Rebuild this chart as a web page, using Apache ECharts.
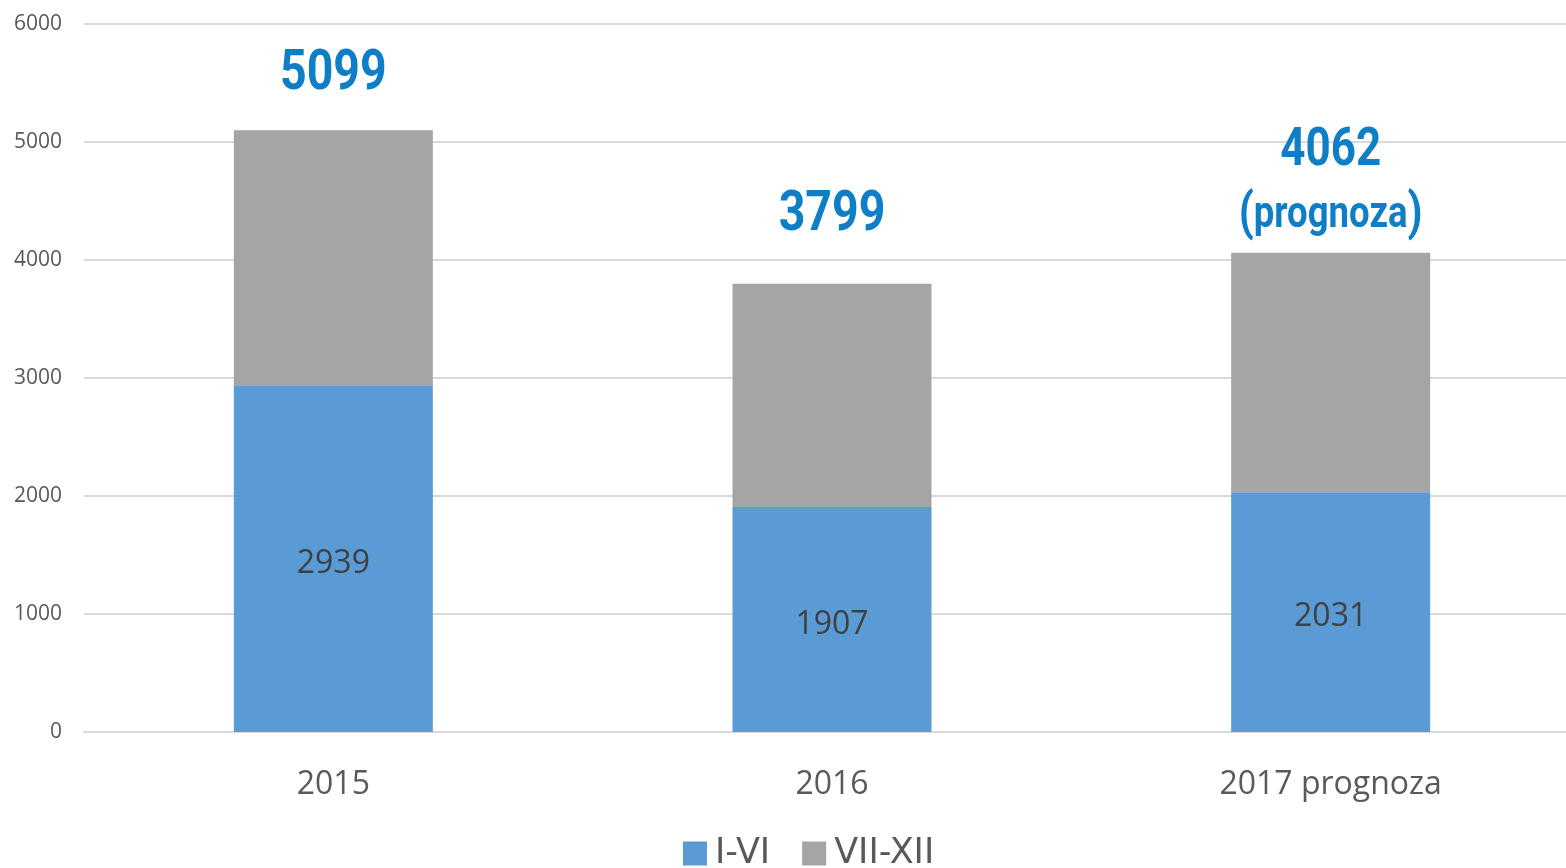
<!DOCTYPE html>
<html>
<head>
<meta charset="utf-8">
<script src="https://cdn.jsdelivr.net/npm/echarts@6/dist/echarts.min.js"></script>
<style>
  html, body { margin: 0; padding: 0; background: #fff; overflow: hidden; }
  #chart { width: 1580px; height: 868px; }
</style>
</head>
<body>
<div id="chart"></div>
<script>
// dane
const years = ['2015', '2016', '2017 prognoza'];
const firstHalf = [2939, 1907, 2031];   // I-VI
const secondHalf = [2160, 1892, 2031];  // VII-XII
const totals = [5099, 3799, 4062];
const totalNotes = ['', '', 'prognoza'];
const yTicks = [0, 1000, 2000, 3000, 4000, 5000, 6000];

const chart = echarts.init(document.getElementById('chart'));

const textFont = 'Open Sans';
const blueText = '#0e7fc7';

// polozenie etykiet sum nad slupkami (px nad gora slupka)
const numOffset = [55, 68, 101];
const numSize = [56, 56, 53];
const noteOffset = 37;

function renderTotal(params, api) {
  const i = api.value(0);
  const top = api.coord([i, api.value(1)]);
  const children = [{
    type: 'text',
    x: top[0],
    y: top[1] - numOffset[i],
    scaleX: 0.83,
    style: {
      text: String(totals[i]),
      fontFamily: 'Roboto',
      fontWeight: 'bold',
      fontSize: numSize[i],
      fill: blueText,
      align: 'center',
      verticalAlign: 'middle'
    }
  }];
  if (totalNotes[i]) {
    children.push({
      type: 'text',
      x: top[0],
      y: top[1] - noteOffset,
      scaleX: 0.83,
      style: {
        text: '{p|(}{b|' + totalNotes[i] + '}{p|)}',
        align: 'center',
        verticalAlign: 'middle',
        rich: {
          b: { fontFamily: 'Roboto', fontWeight: 'bold', fontSize: 44, fill: blueText },
          p: { fontFamily: 'Roboto', fontWeight: 'bold', fontSize: 52, fill: blueText }
        }
      }
    });
  }
  return { type: 'group', children: children };
}

const option = {
  animation: false,
  grid: { left: 84, right: 0, top: 24, bottom: 136, containLabel: false },
  legend: {
    bottom: -8,
    left: 678,
    icon: 'rect',
    itemWidth: 24,
    itemHeight: 24,
    itemGap: 32,
    textStyle: { fontFamily: 'DejaVu Sans', fontSize: 35, color: '#595959', padding: [0, 0, 0, 3] },
    data: ['I-VI', 'VII-XII']
  },
  xAxis: {
    type: 'category',
    data: years,
    axisTick: { show: false },
    axisLine: { lineStyle: { color: '#d9d9d9', width: 2 } },
    axisLabel: { fontFamily: textFont, fontSize: 32, color: '#595959', margin: 37 }
  },
  yAxis: {
    type: 'value',
    min: yTicks[0],
    max: yTicks[yTicks.length - 1],
    interval: 1000,
    axisLine: { show: false },
    axisTick: { show: false },
    axisLabel: {
      fontFamily: textFont, fontSize: 21, color: '#595959', margin: 22,
      formatter: v => String(v)
    },
    splitLine: { lineStyle: { color: '#d9d9d9', width: 2 } }
  },
  series: [
    {
      name: 'I-VI',
      type: 'bar',
      stack: 'rok',
      barWidth: 199,
      data: firstHalf,
      itemStyle: { color: '#5b9bd5' },
      label: {
        show: true,
        position: 'inside',
        offset: [0, 5],
        fontFamily: textFont,
        fontSize: 32,
        color: '#404040'
      }
    },
    {
      name: 'VII-XII',
      type: 'bar',
      stack: 'rok',
      barWidth: 199,
      itemStyle: { color: '#a5a5a5' },
      data: secondHalf
    },
    {
      name: 'suma',
      type: 'custom',
      renderItem: renderTotal,
      data: totals.map((t, i) => [i, t]),
      z: 10
    }
  ]
};

chart.setOption(option);
</script>
</body>
</html>
